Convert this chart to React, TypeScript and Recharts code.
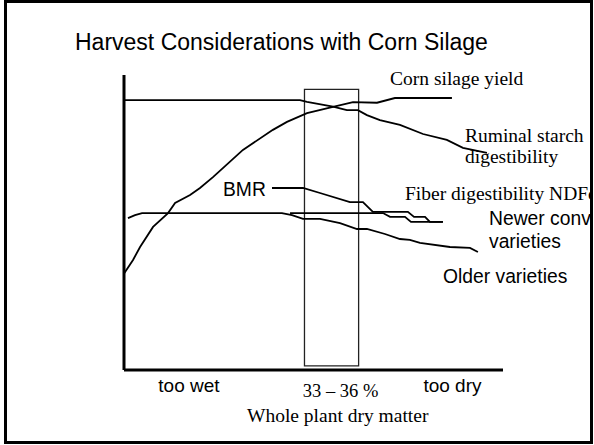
import { LineChart, Line, XAxis, YAxis, ReferenceArea } from "recharts";

// x = whole plant dry matter (%), y = relative level (0-100)
const yieldX = [22.95, 23.5, 23.89, 24.61, 25.44, 25.83, 26.66, 27.21, 27.93, 29.59, 31.25, 32.03, 33.14, 34.58, 35.69, 37.02, 38.01, 41.17];
const yieldY = [32.2, 37.3, 41.7, 48.5, 53.2, 56.6, 59.3, 61.7, 65.4, 74.6, 81.4, 84.1, 87.1, 89.2, 90.8, 90.6, 92.2, 92.2];

const starchX = [23.0, 32.75, 33.14, 34.58, 35.35, 35.96, 36.46, 37.18, 38.29, 39.57, 40.89, 41.78, 43.11];
const starchY = [91.5, 91.5, 90.9, 89.3, 88.1, 88.1, 86.4, 84.7, 83.1, 80.0, 78.0, 75.3, 73.6];

const bmrX = [31.2, 32.92, 33.86, 35.52, 36.24, 36.79, 38.73, 39.07, 39.68, 39.95, 40.67];
const bmrY = [61.7, 61.7, 60.0, 56.9, 56.9, 53.6, 53.6, 51.9, 51.9, 50.2, 50.2];

const newerX = [32.2, 37.35, 37.74, 38.57, 38.9, 40.67];
const newerY = [53.2, 53.2, 51.9, 51.9, 50.2, 50.2];

const olderX = [23.22, 23.61, 24.0, 31.75, 32.31, 32.92, 33.86, 34.97, 35.91, 36.46, 37.46, 38.29, 38.84, 39.4, 41.06, 42.17, 42.61];
const olderY = [51.5, 52.5, 53.2, 53.2, 52.5, 51.2, 51.2, 49.8, 47.8, 47.8, 46.1, 44.4, 44.1, 43.1, 41.7, 41.4, 40.0];

const windowFrom = 33;
const windowTo = 36;

const tickValues = [26.6, 35, 41.2];
const tickLabels = ["too wet", "33 – 36 %", "too dry"];

const toPoints = (xs: number[], ys: number[]) => xs.map((x, i) => ({ x, y: ys[i] }));

const SANS = "'Liberation Sans', Arial, sans-serif";
const SERIF = "'Liberation Serif', 'Times New Roman', serif";

function DryMatterTick(props: any) {
  const { x, y, index } = props;
  const serif = index === 1;
  return (
    <text
      x={x}
      y={y + (serif ? 19 : 14)}
      textAnchor="middle"
      fontFamily={serif ? SERIF : SANS}
      fontSize={serif ? 18.5 : 19}
      fill="#000"
    >
      {tickLabels[index]}
    </text>
  );
}

const line = { type: "linear" as const, stroke: "#000", strokeWidth: 1.8, dot: false, activeDot: false, isAnimationActive: false };

export default function App() {
  return (
    <div style={{ position: "absolute", left: 0, top: 0, width: 594, height: 445, background: "#fff" }}>
      <LineChart width={594} height={445} margin={{ top: 75, right: 91, bottom: 74, left: 123 }}>
        <XAxis
          dataKey="x"
          type="number"
          domain={[23, 44]}
          allowDataOverflow
          ticks={tickValues}
          interval={0}
          height={1}
          tickLine={false}
          axisLine={{ stroke: "#000", strokeWidth: 3 }}
          tick={<DryMatterTick />}
        />
        <YAxis
          type="number"
          domain={[0, 100]}
          width={1}
          tick={false}
          tickLine={false}
          axisLine={{ stroke: "#000", strokeWidth: 3 }}
        />
        <ReferenceArea x1={windowFrom} x2={windowTo} y1={1.4} y2={95.1} fill="none" stroke="#222" strokeWidth={1.3} ifOverflow="visible" />
        <Line data={toPoints(yieldX, yieldY)} dataKey="y" {...line} />
        <Line data={toPoints(starchX, starchY)} dataKey="y" {...line} />
        <Line data={toPoints(bmrX, bmrY)} dataKey="y" {...line} />
        <Line data={toPoints(newerX, newerY)} dataKey="y" {...line} />
        <Line data={toPoints(olderX, olderY)} dataKey="y" {...line} />
      </LineChart>

      <svg width={590} height={445} style={{ position: "absolute", left: 0, top: 0, overflow: "hidden", pointerEvents: "none" }}>
        <text x={75} y={50} fontFamily={SANS} fontSize={23} fill="#000">Harvest Considerations with Corn Silage</text>
        <g fontFamily={SERIF} fontSize={19.5} fill="#000">
          <text x={390} y={85}>Corn silage yield</text>
          <text x={465} y={142}>Ruminal starch</text>
          <text x={465} y={163}>digestibility</text>
          <text x={405} y={200}>Fiber digestibility NDFd</text>
          <text x={247} y={422}>Whole plant dry matter</text>
        </g>
        <g fontFamily={SANS} fontSize={19.3} fill="#000">
          <text x={223} y={196}>BMR</text>
          <text x={489} y={225}>Newer conv</text>
          <text x={489} y={248}>varieties</text>
          <text x={443} y={283}>Older varieties</text>
        </g>
      </svg>

      <div
        style={{
          position: "absolute",
          left: 4,
          top: 0,
          width: 589,
          height: 444,
          border: "3px solid #000",
          boxSizing: "border-box",
          pointerEvents: "none",
        }}
      />
    </div>
  );
}
